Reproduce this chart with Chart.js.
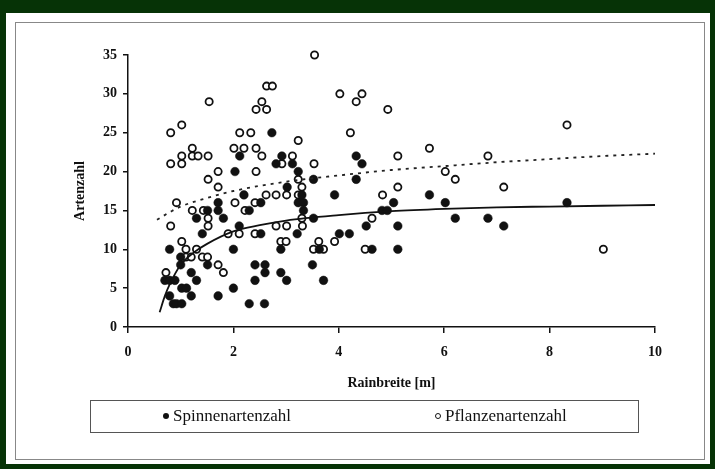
<!DOCTYPE html>
<html>
<head>
<meta charset="utf-8">
<script src="https://cdn.jsdelivr.net/npm/chart.js@4.4.1/dist/chart.umd.min.js"></script>
<style>
  html, body { margin: 0; padding: 0; }
  body { width: 715px; height: 469px; background: #063306; position: relative; overflow: hidden; }
  #panel { position: absolute; left: 6px; top: 13px; width: 704px; height: 451px; background: #fff; }
  #frame { position: absolute; left: 15px; top: 22px; width: 688px; height: 436px; border: 1px solid #888; }
  #wrap { position: absolute; left: 0; top: 0; width: 715px; height: 469px; }
  #legende { position: absolute; left: 90px; top: 400px; width: 547px; height: 31px; border: 1px solid #555;
             font-family: "Liberation Serif", serif; font-size: 17px; color: #111; }
  .eintrag { position: absolute; top: 5px; }
  .punkt { display: inline-block; width: 6px; height: 6px; border-radius: 50%; margin-right: 4px; vertical-align: 2px; box-sizing: border-box; }
</style>
</head>
<body>
<div id="panel"></div>
<div id="frame"></div>
<div id="wrap"><canvas id="grafico" width="715" height="469"></canvas></div>
<div id="legende">
  <span class="eintrag" style="left:72px"><span class="punkt" style="background:#111"></span>Spinnenartenzahl</span>
  <span class="eintrag" style="left:344px"><span class="punkt" style="border:1.5px solid #111"></span>Pflanzenartenzahl</span>
</div>
<script>
// Spinnen (gefuellte Punkte)
const spinnenX = [0.79, 1.0, 1.0, 0.7, 0.79, 0.89, 1.02, 1.11, 0.79, 1.2, 0.86, 0.92, 1.02, 1.2, 1.3, 1.51, 1.71, 2.0, 2.0,
  2.3, 2.59, 2.41, 2.6, 2.6, 2.41, 2.9, 3.01, 3.5, 3.71, 2.9, 3.63, 2.52, 3.21, 4.01, 4.2, 1.41, 1.3, 1.81, 2.11,
  1.51, 1.71, 1.71, 2.2, 2.3, 2.03, 2.12, 2.73, 2.92, 2.81, 3.12, 3.23, 3.02, 3.52, 4.33, 4.33, 4.44, 3.92, 2.52,
  3.23, 3.33, 3.33, 3.3, 3.52, 4.52, 4.63, 5.12, 5.12, 4.82, 4.92, 5.04, 5.72, 6.02, 6.21, 6.83, 7.13, 8.33];
const spinnenY = [10, 9, 8, 6, 6, 6, 5, 5, 4, 4, 3, 3, 3, 7, 6, 8, 4, 10, 5,
  3, 3, 8, 8, 7, 6, 7, 6, 8, 6, 10, 10, 12, 12, 12, 12, 12, 14, 14, 13,
  15, 15, 16, 17, 15, 20, 22, 25, 22, 21, 21, 20, 18, 19, 19, 22, 21, 17, 16,
  16, 16, 15, 17, 14, 13, 10, 13, 10, 15, 15, 16, 17, 16, 14, 14, 13, 16];

// Pflanzen (offene Punkte)
const pflanzenX = [0.81, 1.02, 1.22, 1.02, 1.22, 1.33, 1.52, 0.81, 1.02, 1.54, 1.71, 1.52, 1.71, 0.92, 1.22, 1.43, 1.52, 1.52,
  0.81, 2.03, 2.22, 1.9, 2.11, 1.02, 1.1, 1.3, 1.1, 1.2, 1.41, 1.51, 1.71, 1.81, 0.72,
  2.12, 2.33, 2.01, 2.2, 2.43, 2.54, 2.43, 2.43, 2.63, 2.54, 2.63, 2.74, 3.54, 4.02, 4.44, 4.33, 4.93, 4.22, 3.23,
  5.72, 3.12, 5.12, 2.92, 3.53, 6.02, 3.23, 3.3, 5.12, 4.83, 2.62, 2.81, 3.01, 3.23, 2.41, 2.41, 2.81, 3.01, 3.31,
  3.3, 4.63, 2.9, 3.0, 3.62, 3.92, 3.52, 3.71, 4.5, 8.33, 6.83, 6.21, 7.13, 9.02];
const pflanzenY = [25, 26, 23, 22, 22, 22, 22, 21, 21, 29, 20, 19, 18, 16, 15, 15, 14, 13,
  13, 16, 15, 12, 12, 11, 10, 10, 9, 9, 9, 9, 8, 7, 7,
  25, 25, 23, 23, 23, 22, 20, 28, 28, 29, 31, 31, 35, 30, 30, 29, 28, 25, 24,
  23, 22, 22, 21, 21, 20, 19, 18, 18, 17, 17, 17, 17, 17, 16, 12, 13, 13, 13,
  14, 14, 11, 11, 11, 11, 10, 10, 10, 26, 22, 19, 18, 10];

// Regressionskurven
const kurveSpinnenX = [0.6, 0.7, 0.8, 1.0, 1.25, 1.5, 2, 2.5, 3, 4, 5, 6, 7, 8, 9, 10];
const kurveSpinnenY = [1.9, 4.0, 5.6, 8.0, 9.6, 10.7, 12.3, 13.1, 13.7, 14.4, 14.9, 15.2, 15.4, 15.5, 15.6, 15.7];
const kurvePflanzenX = [0.55, 0.8, 1, 1.5, 2, 3, 4, 5, 6, 7, 8, 9, 10];
const kurvePflanzenY = [13.8, 14.8, 15.5, 16.6, 17.5, 18.7, 19.5, 20.2, 20.7, 21.2, 21.6, 22.0, 22.3];

const xTicks = [0, 2, 4, 6, 8, 10];
const yTicks = [0, 5, 10, 15, 20, 25, 30, 35];

function paare(xs, ys) {
    return xs.map((x, i) => ({ x: x, y: ys[i] }));
}

const schrift = { family: '"Liberation Serif", "Times New Roman", serif', size: 14, weight: 'bold' };

new Chart(document.getElementById('grafico'), {
    type: 'scatter',
    data: {
        datasets: [
            {
                label: 'Spinnenartenzahl',
                data: paare(spinnenX, spinnenY),
                pointRadius: 4.3,
                pointBackgroundColor: '#111',
                pointBorderColor: '#111',
                pointBorderWidth: 0.5,
                clip: false,
                order: 2
            },
            {
                label: 'Pflanzenartenzahl',
                data: paare(pflanzenX, pflanzenY),
                pointRadius: 3.6,
                pointBackgroundColor: '#fff',
                pointBorderColor: '#111',
                pointBorderWidth: 1.8,
                clip: false,
                order: 2
            },
            {
                type: 'line',
                data: paare(kurveSpinnenX, kurveSpinnenY),
                borderColor: '#111',
                borderWidth: 1.8,
                pointRadius: 0,
                cubicInterpolationMode: 'monotone',
                fill: false,
                order: 1
            },
            {
                type: 'line',
                data: paare(kurvePflanzenX, kurvePflanzenY),
                borderColor: '#222',
                borderWidth: 1.8,
                borderDash: [3, 5],
                pointRadius: 0,
                cubicInterpolationMode: 'monotone',
                fill: false,
                order: 1
            }
        ]
    },
    options: {
        responsive: false,
        animation: false,
        layout: { padding: { left: 68, top: 55, right: 60, bottom: 73 } },
        plugins: { legend: { display: false }, tooltip: { enabled: false } },
        scales: {
            x: {
                type: 'linear', min: 0, max: 10,
                afterFit: s => { s.height = 69; },
                afterBuildTicks: s => { s.ticks = xTicks.map(v => ({ value: v })); },
                border: { display: true, color: '#111', width: 1.5 },
                grid: { drawOnChartArea: false, drawTicks: true, tickLength: 6, color: '#111', lineWidth: 1.5 },
                ticks: { color: '#111', font: schrift, padding: 11, maxRotation: 0 },
                title: { display: true, text: 'Rainbreite [m]', color: '#111', font: schrift }
            },
            y: {
                type: 'linear', min: 0, max: 35,
                afterFit: s => { s.width = 60; },
                afterBuildTicks: s => { s.ticks = yTicks.map(v => ({ value: v })); },
                border: { display: true, color: '#111', width: 1.5 },
                grid: { drawOnChartArea: false, drawTicks: true, tickLength: 5, color: '#111', lineWidth: 1.5 },
                ticks: { color: '#111', font: schrift, padding: 6 },
                title: { display: true, text: 'Artenzahl', color: '#111', font: schrift }
            }
        }
    }
});
</script>
</body>
</html>
